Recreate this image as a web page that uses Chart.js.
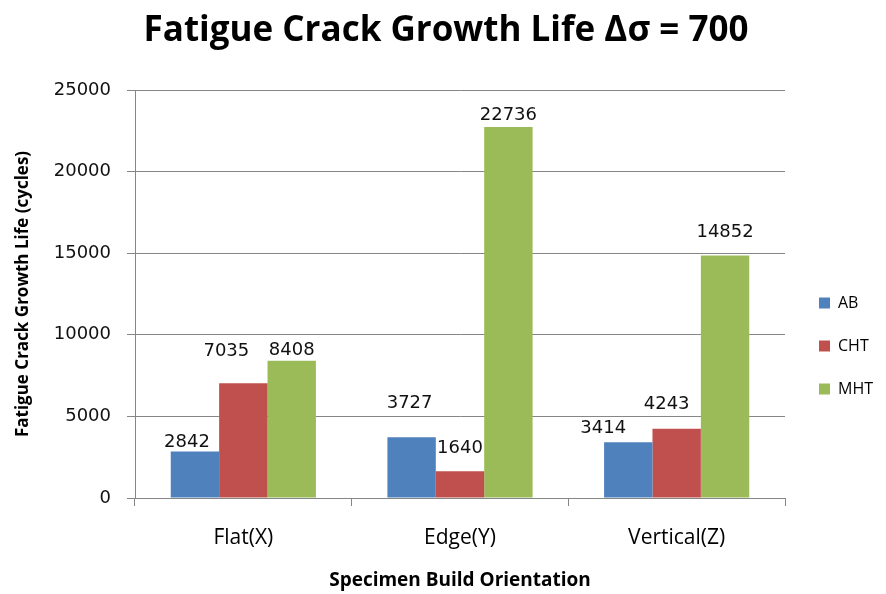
<!DOCTYPE html>
<html>
<head>
<meta charset="utf-8">
<title>Fatigue Crack Growth Life</title>
<script src="https://cdn.jsdelivr.net/npm/chart.js@4/dist/chart.umd.min.js"></script>
<style>
	html, body { margin: 0; padding: 0; background: #fff; }
	#wrap { width: 886px; height: 594px; }
</style>
</head>
<body>
<div id="wrap"><canvas id="fcg-chart" width="886" height="594"></canvas></div>
<script>
// orientations and cycle counts for each condition
var orientations = ['Flat(X)', 'Edge(Y)', 'Vertical(Z)'];
var seriesNames = ['AB', 'CHT', 'MHT'];
var cyclesAB = [2842, 3727, 3414];
var cyclesCHT = [7035, 1640, 4243];
var cyclesMHT = [8408, 22736, 14852];
var yTicks = [0, 5000, 10000, 15000, 20000, 25000];

var seriesColors = ['#4F81BD', '#C0504D', '#9BBB59'];

// value labels sit a little off their bars, [dx, dy] from the bar's top centre
var labelShift = [
	[[-8, -9], [-2, -34], [-25, -14]],
	[[-17, -32], [0, -23], [-10, -24]],
	[[0, -10], [0, -12], [0, -23]]
];

var valueLabels = {
	id: 'valueLabels',
	afterDatasetsDraw: function (chart) {
		var ctx = chart.ctx;
		ctx.save();
		ctx.font = '18px "DejaVu Sans"';
		ctx.fillStyle = '#111';
		ctx.textAlign = 'center';
		ctx.textBaseline = 'middle';
		chart.data.datasets.forEach(function (ds, i) {
			var meta = chart.getDatasetMeta(i);
			meta.data.forEach(function (bar, j) {
				var off = labelShift[i][j];
				ctx.fillText(String(ds.data[j]), bar.x + off[0], bar.y + off[1]);
			});
		});
		ctx.restore();
	}
};

// nudge the legend down and right next to the plot, and the title a touch right
var boxNudge = {
	id: 'boxNudge',
	afterLayout: function (chart) {
		var lg = chart.legend;
		if (lg) {
			lg.left += 7;
			lg.right += 7;
			lg.top += 49;
			lg.bottom += 49;
		}
		var tb = chart.titleBlock;
		if (tb) {
			tb.left += 8;
			tb.right += 8;
		}
	}
};

var seriesData = [cyclesAB, cyclesCHT, cyclesMHT];

new Chart(document.getElementById('fcg-chart'), {
	type: 'bar',
	data: {
		labels: orientations,
		datasets: seriesNames.map(function (name, i) {
			return {
				label: name,
				data: seriesData[i],
				backgroundColor: seriesColors[i],
				borderWidth: 0,
				categoryPercentage: 0.67,
				barPercentage: 1
			};
		})
	},
	options: {
		responsive: false,
		animation: false,
		layout: {
			padding: { top: 0, right: 10, bottom: 0, left: 0 }
		},
		plugins: {
			title: {
				display: true,
				text: 'Fatigue Crack Growth Life Δσ = 700',
				color: '#000',
				font: { family: 'Open Sans', size: 35, weight: 'bold' },
				padding: { top: 10, bottom: 38 }
			},
			legend: {
				position: 'right',
				labels: {
					color: '#000',
					boxWidth: 11,
					boxHeight: 11,
					padding: 27,
					font: { family: 'Open Sans', size: 16 }
				}
			},
			tooltip: { enabled: false }
		},
		scales: {
			x: {
				afterFit: function (scale) {
					scale.height = 96;
				},
				grid: {
					display: true,
					drawOnChartArea: false,
					drawTicks: true,
					tickLength: 8,
					offset: true,
					color: '#868686'
				},
				border: { color: '#868686' },
				ticks: {
					color: '#000',
					padding: 19,
					font: { family: 'Open Sans', size: 21 }
				},
				title: {
					display: true,
					text: 'Specimen Build Orientation',
					color: '#000',
					font: { family: 'Open Sans', size: 19, weight: 'bold' },
					padding: { top: 0, bottom: 2 }
				}
			},
			y: {
				min: 0,
				max: 25000,
				afterFit: function (scale) {
					scale.width = 135;
				},
				afterBuildTicks: function (scale) {
					scale.ticks = yTicks.map(function (v) { return { value: v }; });
				},
				grid: {
					color: '#868686',
					tickLength: 8
				},
				border: { color: '#868686' },
				ticks: {
					color: '#111',
					padding: 16,
					font: { family: 'DejaVu Sans', size: 18 },
					callback: function (value) {
						return String(value);
					}
				},
				title: {
					display: true,
					text: 'Fatigue Crack Growth Life (cycles)',
					color: '#000',
					font: { family: 'Open Sans', size: 17, weight: 'bold' },
					padding: { top: 13, bottom: 0 }
				}
			}
		}
	},
	plugins: [valueLabels, boxNudge]
});
</script>
</body>
</html>
